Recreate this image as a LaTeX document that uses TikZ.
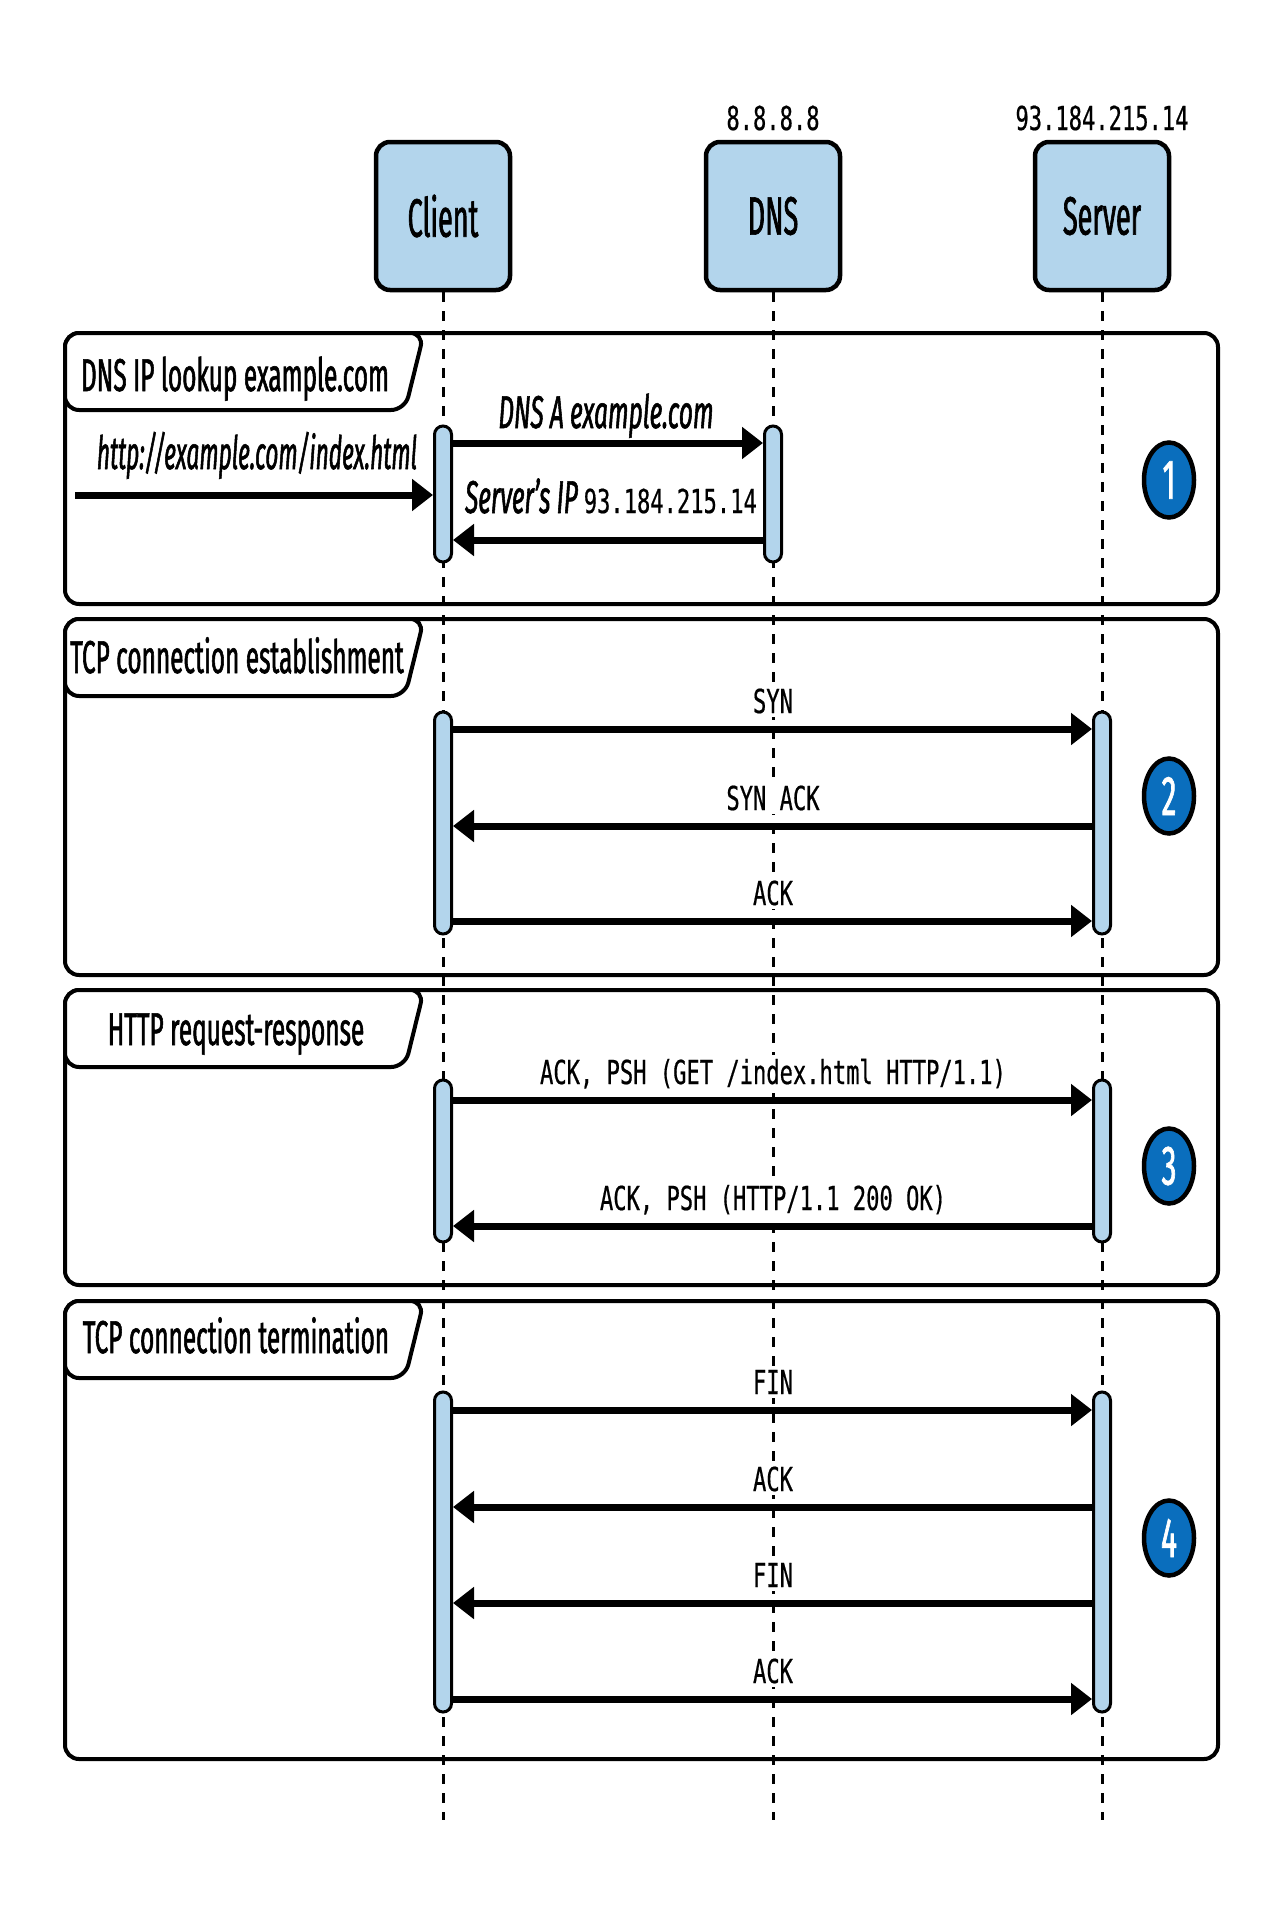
\documentclass[tikz,border=0pt]{standalone}
\usepackage{fontspec}
\setmainfont{Fira Sans}[FakeStretch=0.53,FakeBold=1.2]
\newfontfamily\boxfont{Fira Sans}[FakeStretch=0.5,FakeBold=1.2]
\newfontfamily\monofont{DejaVu Sans Mono}[FakeStretch=0.67,FakeBold=0.5]
\usetikzlibrary{arrows.meta,shapes.geometric}

\definecolor{paleblue}{HTML}{B3D5EC}
\definecolor{badgeblue}{HTML}{0A6EBD}

\pgfdeclarelayer{lines}
\pgfsetlayers{lines,main}

\begin{document}
\begin{tikzpicture}[x=1pt,y=-1pt,
  actor/.style={draw, line width=4.5pt, fill=paleblue, rounded corners=14pt,
    minimum width=134pt, minimum height=148pt, inner sep=0pt,
    font=\boxfont\fontsize{54}{60}\selectfont},
  frame/.style={draw, line width=4pt, rounded corners=14pt},
  tabtitle/.style={anchor=base, inner sep=0pt, font=\fontsize{46}{50}\selectfont},
  life/.style={line width=3pt, dash pattern=on 10pt off 9pt},
  bar/.style={draw, line width=3pt, fill=paleblue, rounded corners=8.5pt,
    minimum width=17pt, inner sep=0pt},
  msg/.style={line width=7pt, -{Triangle[length=21pt,width=31pt]}},
  mono/.style={anchor=base, inner sep=0pt, font=\monofont\fontsize{33}{36}\selectfont},
  msglabel/.style={anchor=base, fill=white, inner xsep=3pt, inner ysep=4pt,
    font=\monofont\fontsize{33}{36}\selectfont},
  note/.style={anchor=base, inner sep=0pt, font=\itshape\fontsize{46}{50}\selectfont},
  badge/.style={ellipse, draw, line width=4.5pt, fill=badgeblue, minimum width=50pt,
    minimum height=75pt, inner sep=0pt, text=white, font=\fontsize{56}{56}\selectfont}
]
\useasboundingbox (0,0) rectangle (1284,1914);

% participants
\node[actor] (client) at (443,216) {Client};
\node[actor] (dns) at (773,216) {DNS};
\node[actor] (server) at (1102,216) {Server};
\node[mono] (dnsip) at (773,130) {8.8.8.8};
\node[mono] (srvip) at (1102,130) {93.184.215.14};

% section frames and lifelines, kept beneath everything else
\coordinate (cend) at (443,1820);
\coordinate (dend) at (773,1820);
\coordinate (send) at (1102,1820);
\begin{pgfonlayer}{lines}
\draw[frame] (65,333) rectangle (1218,604);
\draw[frame] (65,619) rectangle (1218,975);
\draw[frame] (65,990) rectangle (1218,1285);
\draw[frame] (65,1301) rectangle (1218,1759);
\draw[life] (client) -- (cend);
\draw[life] (dns) -- (dend);
\draw[life] (server) -- (send);
\end{pgfonlayer}

% title tabs
\draw[frame, fill=white] (65,333) -- (424,333) -- (405,410) -- (65,410) -- cycle;
\draw[frame, fill=white] (65,619) -- (424,619) -- (405,696) -- (65,696) -- cycle;
\draw[frame, fill=white] (65,990) -- (424,990) -- (405,1067) -- (65,1067) -- cycle;
\draw[frame, fill=white] (65,1301) -- (424,1301) -- (405,1378) -- (65,1378) -- cycle;
\node[tabtitle] (t1) at (235,391) {DNS IP lookup example.com};
\node[tabtitle] (t2) at (237,673) {TCP connection establishment};
\node[tabtitle] (t3) at (236,1045) {HTTP request-response};
\node[tabtitle] (t4) at (236,1353) {TCP connection termination};

% activation bars
\node[bar, minimum height=136pt] (c1) at (443,494) {};
\node[bar, minimum height=136pt] (d1) at (773,494) {};
\node[bar, minimum height=222pt] (c2) at (443,823) {};
\node[bar, minimum height=222pt] (s2) at (1102,823) {};
\node[bar, minimum height=162pt] (c3) at (443,1161) {};
\node[bar, minimum height=162pt] (s3) at (1102,1161) {};
\node[bar, minimum height=320pt] (c4) at (443,1552) {};
\node[bar, minimum height=320pt] (s4) at (1102,1552) {};

% 1: DNS lookup
\coordinate (url) at (75,495);
\coordinate (y1a) at (0,443);
\coordinate (y1b) at (0,540);
\draw[msg] (url) -- (c1.west |- url);
\draw[msg] (c1.east |- y1a) -- (d1.west |- y1a);
\draw[msg] (d1.west |- y1b) -- (c1.east |- y1b);
\node[note] (lurl) at (257,469) {\scalebox{0.93}[1]{http://example.com/index.html}};
\node[note] (lq) at (606,428) {DNS A example.com};
\node[anchor=base, inner sep=0pt] (la) at (611,513)
  {{\itshape\fontsize{46}{50}\selectfont Server’s IP}\hspace{6pt}{\monofont\fontsize{33}{36}\selectfont 93.184.215.14}};

% 2: handshake
\coordinate (y2a) at (0,729);
\coordinate (y2b) at (0,826);
\coordinate (y2c) at (0,921);
\draw[msg] (c2.east |- y2a) -- (s2.west |- y2a);
\draw[msg] (s2.west |- y2b) -- (c2.east |- y2b);
\draw[msg] (c2.east |- y2c) -- (s2.west |- y2c);
\node[msglabel] (l2a) at (773,713) {SYN};
\node[msglabel] (l2b) at (773,810) {SYN ACK};
\node[msglabel] (l2c) at (773,905) {ACK};

% 3: request and response
\coordinate (y3a) at (0,1100);
\coordinate (y3b) at (0,1226);
\draw[msg] (c3.east |- y3a) -- (s3.west |- y3a);
\draw[msg] (s3.west |- y3b) -- (c3.east |- y3b);
\node[msglabel] (l3a) at (773,1084) {ACK, PSH (GET /index.html HTTP/1.1)};
\node[msglabel] (l3b) at (773,1210) {ACK, PSH (HTTP/1.1 200 OK)};

% 4: teardown
\coordinate (y4a) at (0,1410);
\coordinate (y4b) at (0,1507);
\coordinate (y4c) at (0,1603);
\coordinate (y4d) at (0,1699);
\draw[msg] (c4.east |- y4a) -- (s4.west |- y4a);
\draw[msg] (s4.west |- y4b) -- (c4.east |- y4b);
\draw[msg] (s4.west |- y4c) -- (c4.east |- y4c);
\draw[msg] (c4.east |- y4d) -- (s4.west |- y4d);
\node[msglabel] (l4a) at (773,1394) {FIN};
\node[msglabel] (l4b) at (773,1491) {ACK};
\node[msglabel] (l4c) at (773,1587) {FIN};
\node[msglabel] (l4d) at (773,1683) {ACK};

% step badges
\node[badge] (b1) at (1169,480) {1};
\node[badge] (b2) at (1169,796) {2};
\node[badge] (b3) at (1169,1166) {3};
\node[badge] (b4) at (1169,1538) {4};
\end{tikzpicture}
\end{document}
